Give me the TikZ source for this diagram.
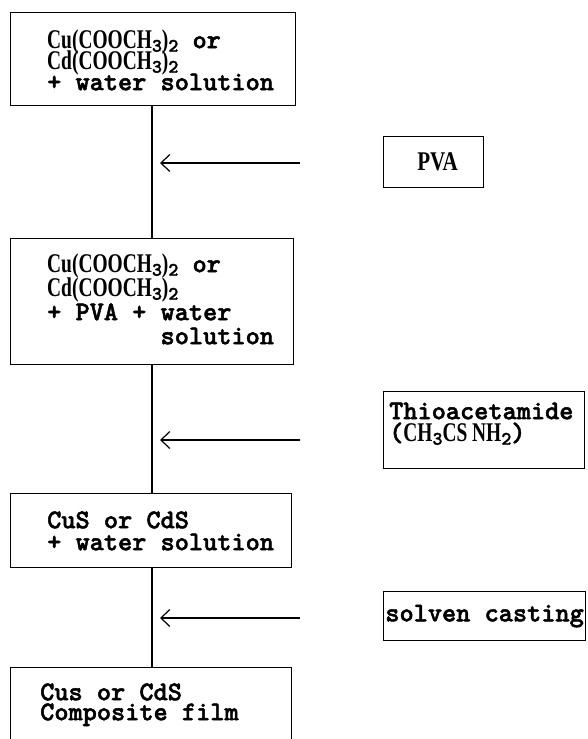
\documentclass[tikz,border=0pt]{standalone}
\usepackage{fontspec}
\usetikzlibrary{arrows.meta}
\newfontfamily\tw[FakeBold=1.8]{lmmonolt10-bold.otf}
\newfontfamily\fsr[FakeStretch=0.72]{Liberation Serif}
\newfontfamily\fsp[FakeStretch=0.78]{Liberation Serif}
\newcommand{\chem}[1]{{\fsr\bfseries #1}}
\newcommand{\sbs}[1]{\raisebox{-0.3ex}{\fontsize{19}{19}\selectfont #1}}
\newcommand{\fl}{\rule{0pt}{21pt}}
\newcommand{\fixlines}{\lineskip=0pt\lineskiplimit=-100pt}
\tikzset{
  box/.style={draw, line width=1.2pt, anchor=north west, inner sep=0pt},
  txt/.style={anchor=north west, inner sep=0pt, align=left,
    font=\tw\fontsize{27}{21}\selectfont\fixlines},
  link/.style={line width=1.3pt},
  arr/.style={line width=1.2pt, -{Straight Barb[length=9pt,width=17pt,line width=1.2pt]}}
}
\begin{document}
\begin{tikzpicture}[x=1pt,y=-1pt]
\useasboundingbox (0,0) rectangle (588,739);
\clip (0,0) rectangle (588,739);
% left column boxes
\node[box, minimum width=285pt, minimum height=93pt] (b1) at (10,12) {};
\node[box, minimum width=283pt, minimum height=126pt] (b2) at (10,238) {};
\node[box, minimum width=281pt, minimum height=74pt] (b3) at (10,493) {};
\node[box, minimum width=281pt, minimum height=90pt] (b4) at (10,667) {};
% texts
\node[txt, font=\tw\fontsize{27}{21}\selectfont\fixlines] (t1) at (47,27) {\fl\chem{Cu(COOCH}\sbs{3}\chem{)}\sbs{2} or\\
\chem{Cd(COOCH}\sbs{3}\chem{)}\sbs{2}\\
+ water solution};
\node[txt, font=\tw\fontsize{27}{24}\selectfont\fixlines] (t2) at (47,251) {\fl\chem{Cu(COOCH}\sbs{3}\chem{)}\sbs{2} or\\
\chem{Cd(COOCH}\sbs{3}\chem{)}\sbs{2}\\
+ PVA + water\\
\phantom{+ PVA + }solution};
\node[txt, font=\tw\fontsize{27}{22}\selectfont\fixlines] (t3) at (47,507) {\fl CuS or CdS\\+ water solution};
\node[txt, font=\tw\fontsize{27}{20}\selectfont\fixlines] (t4) at (40,679) {\fl Cus or CdS\\Composite film};
% right boxes
\node[box, minimum width=100pt, minimum height=51pt] (pva) at (383,136) {};
\node[txt] (tp) at ([xshift=4pt]pva.center) [anchor=center, font=\fsp\bfseries\fontsize{27}{20}\selectfont] {PVA};
\node[box, minimum width=201pt, minimum height=77pt] (thio) at (383,391) {};
\node[txt, font=\tw\fontsize{27}{22}\selectfont\fixlines] (tt) at (389,398) {\fl Thioacetamide\\(\chem{CH}\sbs{3}\chem{CS NH}\sbs{2})};
\node[box, minimum width=202pt, minimum height=49pt] (solv) at (383,591) {};
\node[txt] (ts) at (solv.center) [anchor=center] {solven casting};
% spine
\coordinate (sp) at (152,0);
\draw[link] (b1.south -| sp) -- (b2.north -| sp);
\draw[link] (b2.south -| sp) -- (b3.north -| sp);
\draw[link] (b3.south -| sp) -- (b4.north -| sp);
% arrows
\coordinate (a1s) at (300,163); \coordinate (a1e) at (160,163);
\coordinate (a2s) at (300,440); \coordinate (a2e) at (160,440);
\coordinate (a3s) at (300,618); \coordinate (a3e) at (160,618);
\draw[arr] (a1s) -- (a1e);
\draw[arr] (a2s) -- (a2e);
\draw[arr] (a3s) -- (a3e);
\end{tikzpicture}
\end{document}
